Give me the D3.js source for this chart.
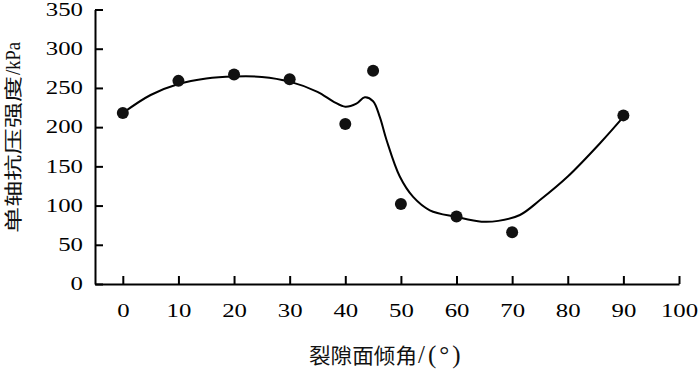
<!DOCTYPE html>
<html>
<head>
<meta charset="utf-8">
<script src="https://cdn.jsdelivr.net/npm/d3@7"></script>
<style>
  body { margin: 0; background: #fff; }
  svg { display: block; }
</style>
</head>
<body>
<div class="canvas"></div>
<script>
// measured points
const angles = [0, 10, 20, 30, 40, 45, 50, 60, 70, 90]
const strength = [218, 259, 267, 261, 204, 272, 102, 86, 66, 215]

// fitted curve
const curveX = [0, 5, 10, 15, 20, 25, 30, 35, 38, 40, 42, 43.5, 45, 46.2, 47.4, 49.8, 52.2, 55.2, 60, 64.5, 67.5, 71.4, 75, 80, 86, 90]
const curveY = [218, 241, 255, 262, 264.5, 264, 258, 245, 232, 226, 230, 238, 233, 213, 184, 137, 111, 94, 85.5, 79.5, 80.5, 88, 107, 137, 181, 213]

const xTicks = [0, 10, 20, 30, 40, 50, 60, 70, 80, 90, 100]
const yTicks = [0, 50, 100, 150, 200, 250, 300, 350]

// titles: CJK part + latin unit part
const xTitle = ['裂隙面倾角', '/(°)']
const yTitle = ['单轴抗压强度', '/kPa']

const width = 700
const height = 370

const svg = d3.select('.canvas')
              .append('svg')
              .attr('width', width)
              .attr('height', height)

//scales
const xScale = d3.scaleLinear()
                 .domain([-5, 100])
                 .range([95, 679])
const yScale = d3.scaleLinear()
                 .domain([0, 350])
                 .range([284, 9.5])

const numFont = '"Liberation Serif", "Times New Roman", serif'
const cjkFont = '"Noto Sans CJK SC", sans-serif'

//axes
const xAxis = d3.axisBottom(xScale)
                .tickValues(xTicks)
                .tickSizeInner(-8)
                .tickSizeOuter(0)
                .tickPadding(20)
const yAxis = d3.axisLeft(yScale)
                .tickValues(yTicks)
                .tickSizeInner(-8)
                .tickSizeOuter(0)
                .tickPadding(12)

const xAxisGroup = svg.append('g')
                      .attr('transform', `translate(0, ${yScale(0)})`)
                      .call(xAxis)
const yAxisGroup = svg.append('g')
                      .attr('transform', `translate(${xScale(-5)}, 0)`)
                      .call(yAxis)

;[xAxisGroup, yAxisGroup].forEach(g => {
  g.selectAll('.domain, .tick line')
   .attr('stroke', '#000')
   .attr('stroke-width', 2)
  g.selectAll('text')
   .attr('fill', '#000')
   .style('font-family', numFont)
   .style('font-size', '18px')
   .attr('textLength', d => String(d).length * 12.4)
   .attr('lengthAdjust', 'spacingAndGlyphs')
})

//fitted curve
const line = d3.line()
               .x((d, i) => xScale(curveX[i]))
               .y(d => yScale(d))
               .curve(d3.curveCatmullRom.alpha(0.5))

svg.append('path')
   .datum(curveY)
   .attr('fill', 'none')
   .attr('stroke', '#000')
   .attr('stroke-width', 2)
   .attr('d', line)

//points
svg.selectAll('circle')
   .data(angles)
   .enter()
   .append('circle')
   .attr('cx', d => xScale(d))
   .attr('cy', (d, i) => yScale(strength[i]))
   .attr('r', 6)
   .attr('fill', '#111')

//x title
svg.append('text')
   .attr('x', 309)
   .attr('y', 363)
   .attr('fill', '#111')
   .attr('textLength', 108)
   .attr('lengthAdjust', 'spacingAndGlyphs')
   .style('font-family', cjkFont)
   .style('font-size', '21px')
   .text(xTitle[0])
svg.append('text')
   .attr('x', 418)
   .attr('y', 363)
   .attr('fill', '#111')
   .style('font-family', numFont)
   .style('font-size', '25px')
   .style('letter-spacing', '3px')
   .text(xTitle[1])

//y title
svg.append('text')
   .attr('transform', 'translate(20, 233) rotate(-90)')
   .attr('fill', '#111')
   .attr('textLength', 157)
   .attr('lengthAdjust', 'spacingAndGlyphs')
   .style('font-family', cjkFont)
   .style('font-size', '18px')
   .text(yTitle[0])
svg.append('text')
   .attr('transform', 'translate(20, 75) rotate(-90)')
   .attr('fill', '#111')
   .attr('textLength', 33)
   .attr('lengthAdjust', 'spacingAndGlyphs')
   .style('font-family', numFont)
   .style('font-size', '21px')
   .text(yTitle[1])
</script>
</body>
</html>
